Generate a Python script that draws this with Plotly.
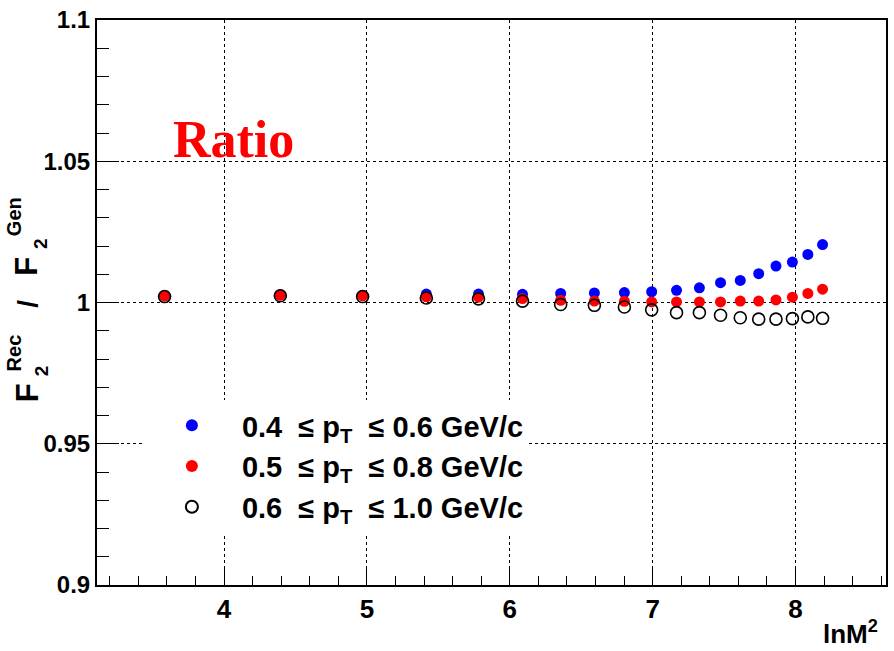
import plotly.graph_objects as go

# ln(M^2) bin positions
lnM2 = [3.584, 4.394, 4.970, 5.416, 5.781, 6.089, 6.356, 6.592, 6.802, 6.993,
        7.167, 7.327, 7.475, 7.613, 7.742, 7.863, 7.978, 8.086, 8.189]

# ratio F2(Rec)/F2(Gen) for three pT windows
ratio_04_06 = [1.0024, 1.0027, 1.0025, 1.0030, 1.0030, 1.0029, 1.0032, 1.0034, 1.0035, 1.0038,
               1.0043, 1.0052, 1.0070, 1.0078, 1.0102, 1.0129, 1.0143, 1.0170, 1.0205]
ratio_05_08 = [1.0023, 1.0026, 1.0024, 1.0020, 1.0019, 1.0014, 1.0008, 1.0005, 1.0004, 1.0002,
               1.0002, 1.0002, 1.0002, 1.0005, 1.0005, 1.0009, 1.0019, 1.0032, 1.0047]
ratio_06_10 = [1.0021, 1.0024, 1.0021, 1.0016, 1.0013, 1.0005, 0.9993, 0.9990, 0.9984, 0.9974,
               0.9964, 0.9964, 0.9955, 0.9946, 0.9941, 0.9941, 0.9943, 0.9949, 0.9944]

NB = "\u00a0"
series_names = [f"0.4{NB}{NB}\u2264{NB}p<sub>T</sub>{NB}{NB}\u2264{NB}0.6{NB}GeV/c",
                f"0.5{NB}{NB}\u2264{NB}p<sub>T</sub>{NB}{NB}\u2264{NB}0.8{NB}GeV/c",
                f"0.6{NB}{NB}\u2264{NB}p<sub>T</sub>{NB}{NB}\u2264{NB}1.0{NB}GeV/c"]

x_tickvals = [4, 5, 6, 7, 8]
x_ticktext = ["4", "5", "6", "7", "8"]
y_tickvals = [0.9, 0.95, 1.0, 1.05, 1.1]
y_ticktext = ["0.9", "0.95", "1", "1.05", "1.1"]

W, H = 894, 651
L, R, T, B = 97, 6, 17, 66
PW, PH = W - L - R, H - T - B

def px(xp):
    return (xp - L) / PW

def py(yp):
    return (H - B - yp) / PH

FONT = "Liberation Sans"

fig = go.Figure()
fig.add_trace(go.Scatter(x=lnM2, y=ratio_04_06, mode="markers", name=series_names[0],
                         marker=dict(symbol="circle", size=11, color="#0000ff", line=dict(width=0))))
fig.add_trace(go.Scatter(x=lnM2, y=ratio_05_08, mode="markers", name=series_names[1],
                         marker=dict(symbol="circle", size=11, color="#ff0000", line=dict(width=0))))
fig.add_trace(go.Scatter(x=lnM2, y=ratio_06_10, mode="markers", name=series_names[2],
                         marker=dict(symbol="circle-open", size=12, color="black", line=dict(width=1.6))))

axis_common = dict(
    showline=True, linecolor="black", linewidth=2, mirror=True,
    ticks="inside", tickcolor="black", tickwidth=1,
    showgrid=True, gridcolor="black", gridwidth=1, griddash="dot",
    zeroline=False,
    tickfont=dict(family=FONT, size=24, color="black", weight="bold"),
)

fig.update_xaxes(range=[3.111, 8.633], tickvals=x_tickvals, ticktext=x_ticktext, ticklen=18,
                 minor=dict(dtick=0.2, tick0=0, ticklen=9, ticks="inside", tickcolor="black", showgrid=False),
                 **{**axis_common, "tickfont": dict(family=FONT, size=26, color="black", weight="bold")})
fig.update_yaxes(range=[0.9, 1.1], tickvals=y_tickvals, ticktext=y_ticktext, ticklen=22,
                 minor=dict(dtick=0.01, tick0=0.9, ticklen=12, ticks="inside", tickcolor="black", showgrid=False),
                 **axis_common)

ann = []
# "Ratio" label
ann.append(dict(x=px(234), y=py(137), xref="paper", yref="paper", text="Ratio", showarrow=False,
                font=dict(family="Liberation Serif", size=52, color="#ff0000", weight="bold"),
                xanchor="center", yanchor="middle"))
# x-axis title
ann.append(dict(x=px(882), y=py(633), xref="paper", yref="paper", text="lnM<sup>2</sup>", showarrow=False,
                font=dict(family=FONT, size=26, color="black", weight="bold"),
                xanchor="right", yanchor="middle"))
# y-axis title pieces (rotated)
ytitle = [
    ("F", 27, 392, 31),
    ("Rec", 14, 352, 20),
    ("2", 41, 370, 19),
    ("/", 27, 302, 28),
    ("F", 27, 265, 31),
    ("Gen", 14, 215, 20),
    ("2", 41, 242, 19),
]
for t, xp, yp, fs in ytitle:
    ann.append(dict(x=px(xp), y=py(yp), xref="paper", yref="paper", text=t, showarrow=False,
                    textangle=-90, font=dict(family=FONT, size=fs, color="black", weight="bold"),
                    xanchor="center", yanchor="middle"))

fig.update_layout(
    width=W, height=H, margin=dict(l=L, r=R, t=T, b=B),
    paper_bgcolor="white", plot_bgcolor="white",
    showlegend=True,
    legend=dict(x=px(142), y=py(399), xanchor="left", yanchor="top",
                bgcolor="white", borderwidth=0, itemwidth=90,
                font=dict(family=FONT, size=29, color="black", weight="bold"),
                tracegroupgap=0, itemsizing="constant"),
    annotations=ann,
)

fig.write_html("out.html")
